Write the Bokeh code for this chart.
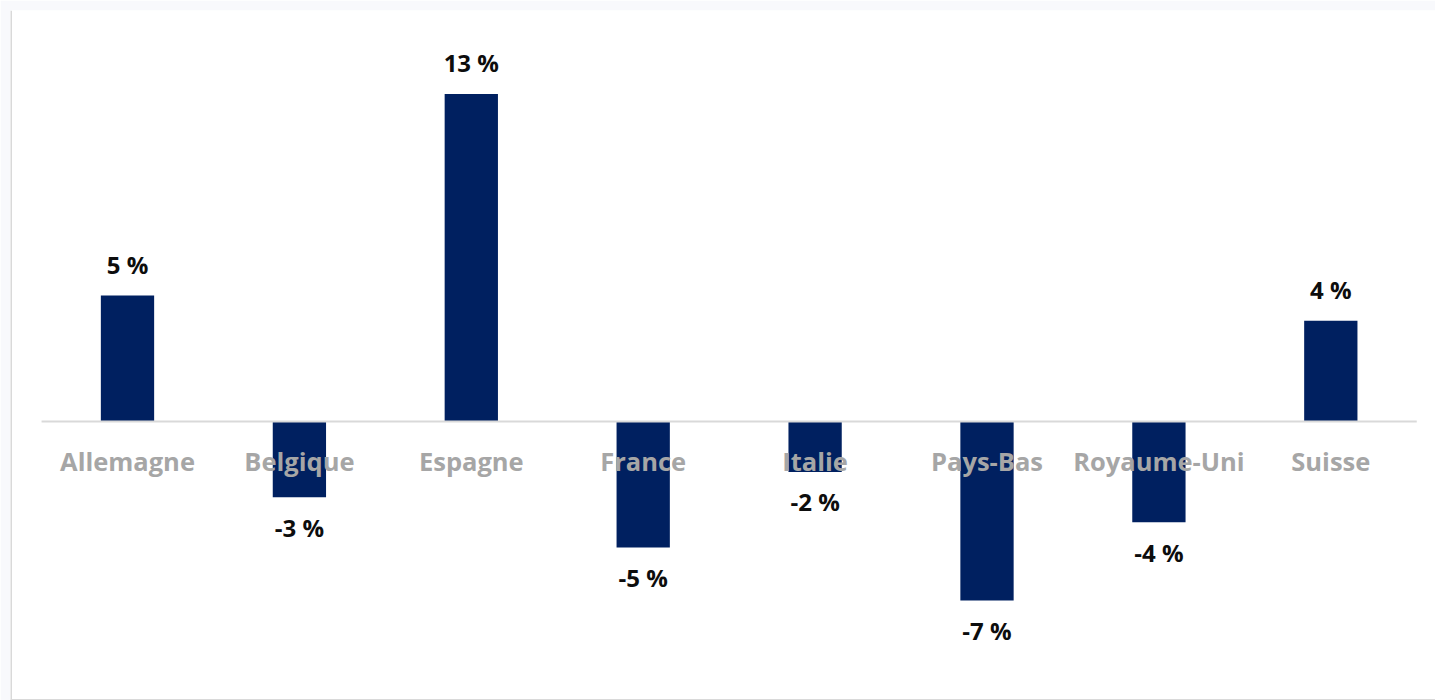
from bokeh.plotting import figure
from bokeh.models import Range1d, ColumnDataSource, Span
from bokeh.core.properties import value
from bokeh.embed import file_html
from bokeh.resources import INLINE

# ---- data ----
countries = ["Allemagne", "Belgique", "Espagne", "France", "Italie",
             "Pays-Bas", "Royaume-Uni", "Suisse"]
changes = [5.0, -3.0, 13.0, -5.0, -2.0, -7.1, -4.0, 4.0]
labels = [f"{round(v)} %" for v in changes]

BAR = "#002060"
GREY_TXT = "#a6a6a6"
LINE = "#d9d9d9"
FONT = "Open Sans"

n = len(countries)
idx = list(range(n))  # category slot positions

p = figure(
    width=1435, height=700,
    x_range=Range1d(-0.6806, n - 0.391),
    y_range=Range1d(-11.07, 16.31),
    output_backend="svg", toolbar_location=None,
    background_fill_color="white", border_fill_color="#f8f9fc",
)
p.min_border = 0
p.min_border_left = 10
p.min_border_right = 0
p.min_border_top = 10
p.min_border_bottom = 0
p.outline_line_color = None
p.xaxis.visible = False
p.yaxis.visible = False
p.xgrid.visible = False
p.ygrid.visible = False

src = ColumnDataSource(dict(x=idx, name=countries, top=changes, lab=labels,
                            zero=[0] * n))

p.vbar(x="x", top="top", bottom=0, width=0.31, source=src,
       fill_color=BAR, line_color=None)

# zero line spanning the category extent
p.segment(x0=[idx[0] - 0.5], y0=[0], x1=[idx[-1] + 0.5], y1=[0],
          line_color=LINE, line_width=2)

# category labels just below zero line (overlapping bars)
p.text(x="x", y="zero", text="name", source=src, y_offset=39,
       text_align="center", text_baseline="middle",
       text_font=value(FONT), text_font_style="bold",
       text_font_size="25.5px", text_color=GREY_TXT)

# value labels
pos = ColumnDataSource(dict(
    x=[i for i, v in zip(idx, changes) if v >= 0],
    y=[v for v in changes if v >= 0],
    t=[l for l, v in zip(labels, changes) if v >= 0]))
neg = ColumnDataSource(dict(
    x=[i for i, v in zip(idx, changes) if v < 0],
    y=[v for v in changes if v < 0],
    t=[l for l, v in zip(labels, changes) if v < 0]))

for s, off in ((pos, -31), (neg, 30)):
    p.text(x="x", y="y", text="t", source=s, y_offset=off,
           text_align="center", text_baseline="middle",
           text_font=value(FONT), text_font_style="bold",
           text_font_size="24px", text_color="#0d0d0d")

# chart border (left and top visible)
p.add_layout(Span(location=0.5, location_units="screen", dimension="height",
                  line_color=LINE, line_width=2))
p.add_layout(Span(location=0.5, location_units="screen", dimension="width",
                  line_color=LINE, line_width=2))

open("out.html", "w").write(file_html(p, INLINE))
